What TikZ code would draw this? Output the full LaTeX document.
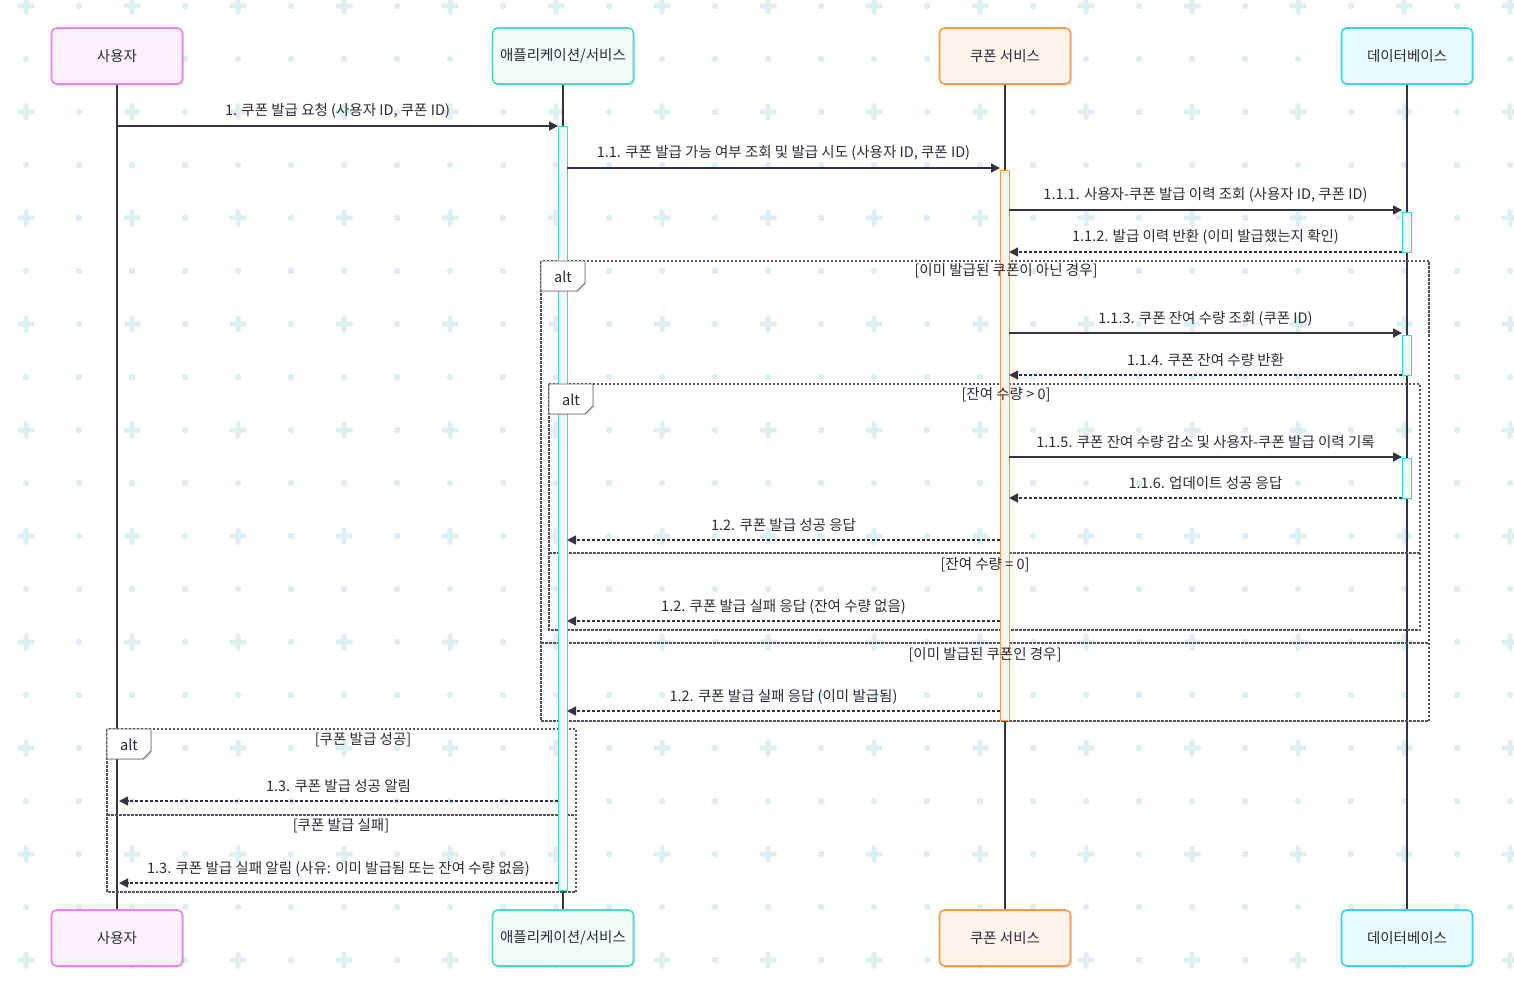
\documentclass[tikz,border=0pt]{standalone}
\usepackage{fontspec}
\setmainfont{Noto Sans CJK KR}
\usetikzlibrary{arrows.meta,shadows}

\definecolor{pat}{HTML}{DDEFF2}
\definecolor{ink}{HTML}{333344}
\definecolor{txt}{HTML}{2B2B38}
\definecolor{frm}{HTML}{555562}
\definecolor{userB}{HTML}{F07EF0}
\definecolor{userF}{HTML}{FEF1FE}
\definecolor{appB}{HTML}{4FD8C4}
\definecolor{appF}{HTML}{EFFCFA}
\definecolor{cpnB}{HTML}{FF9A4C}
\definecolor{cpnF}{HTML}{FFF3EA}
\definecolor{dbB}{HTML}{3BD4EE}
\definecolor{dbF}{HTML}{EBFCFF}

\newcommand{\alttab}[3]{%
  \draw[tabline] (#1,#2) -- ++(44,0) -- ++(0,22) -- ++(-8,8) -- ++(-36,0) -- cycle;
  \node[txtfont] (#3) at (#1+22,#2+15.5) {alt};}

\begin{document}
\begin{tikzpicture}[x=1pt,y=-1pt,
  every node/.style={inner sep=0pt, text=txt},
  txtfont/.style={font=\fontsize{14.5}{16}\selectfont},
  actor/.style={draw, rounded corners=5pt, line width=1.6pt,
    minimum width=131pt, minimum height=56pt, txtfont,
    drop shadow={shadow xshift=1.5pt, shadow yshift=-1.5pt, opacity=0.12, fill=black}},
  life/.style={draw=ink, line width=2pt},
  actbar/.style={draw, line width=1pt, minimum width=9pt, anchor=north},
  sync/.style={draw=ink, line width=1.4pt, -{Triangle[length=9pt,width=9pt]}},
  reply/.style={sync, dash pattern=on 3pt off 2pt},
  lbl/.style={midway, anchor=base, yshift=10pt, txtfont},
  frame/.style={draw=frm, line width=1.2pt, dash pattern=on 2.5pt off 1.5pt},
  cond/.style={txtfont, anchor=center},
  tabline/.style={draw=frm!90, fill=white, line width=0.9pt,
    drop shadow={shadow xshift=1.2pt, shadow yshift=-1.2pt, opacity=0.12, fill=black}},
]
\useasboundingbox (0,0) rectangle (1514,984);

% background pattern: crosses and dots
\foreach \i in {0,...,14} \foreach \j in {0,...,9} {
  \fill[pat, rounded corners=1pt] (26+106*\i-8.5, 6+106*\j-2.5) rectangle ++(17,5);
  \fill[pat, rounded corners=1pt] (26+106*\i-2.5, 6+106*\j-8.5) rectangle ++(5,17);
  \fill[pat, rounded corners=1.5pt] (79+106*\i-3, 6+106*\j-3) rectangle ++(6,6);
}
\foreach \i in {0,...,28} \foreach \j in {0,...,9}
  \fill[pat, rounded corners=1.5pt] (26+53*\i-3, 59+106*\j-3) rectangle ++(6,6);

% participants, top and bottom
\node[actor, draw=userB, fill=userF] (u1) at (117,56) {사용자};
\node[actor, draw=appB, fill=appF, minimum width=141pt] (a1) at (563,56) {애플리케이션/서비스};
\node[actor, draw=cpnB, fill=cpnF] (c1) at (1005,56) {쿠폰 서비스};
\node[actor, draw=dbB, fill=dbF] (d1) at (1407,56) {데이터베이스};
\node[actor, draw=userB, fill=userF] (u2) at (117,938) {사용자};
\node[actor, draw=appB, fill=appF, minimum width=141pt] (a2) at (563,938) {애플리케이션/서비스};
\node[actor, draw=cpnB, fill=cpnF] (c2) at (1005,938) {쿠폰 서비스};
\node[actor, draw=dbB, fill=dbF] (d2) at (1407,938) {데이터베이스};

% lifelines
\draw[life] (u1.south) -- (u2.north);
\draw[life] (a1.south) -- (a2.north);
\draw[life] (c1.south) -- (c2.north);
\draw[life] (d1.south) -- (d2.north);

% combined fragments
\draw[frame] (541,261) rectangle (1429,721);
\draw[frame] (541,643) -- (1429,643);
\draw[frame] (549,384) rectangle (1420,630);
\draw[frame] (549,553) -- (1420,553);
\draw[frame] (107,729) rectangle (576,892);
\draw[frame] (107,815) -- (576,815);

% activation bars
\node[actbar, draw=appB, fill=appF, minimum height=764pt] (appact) at (563,126) {};
\node[actbar, draw=cpnB, fill=cpnF, minimum height=550pt] (cpnact) at (1005,170) {};
\node[actbar, draw=dbB, fill=dbF, minimum height=40pt] (dbact1) at (1407,212) {};
\node[actbar, draw=dbB, fill=dbF, minimum height=40pt] (dbact2) at (1407,335) {};
\node[actbar, draw=dbB, fill=dbF, minimum height=40pt] (dbact3) at (1407,458) {};

% guard conditions
\node[cond] (g1) at (1006,271) {[이미 발급된 쿠폰이 아닌 경우]};
\node[cond] (g2) at (1006,395) {[잔여 수량 > 0]};
\node[cond] (g3) at (985,565) {[잔여 수량 = 0]};
\node[cond] (g4) at (985,655) {[이미 발급된 쿠폰인 경우]};
\node[cond] (g5) at (363,740) {[쿠폰 발급 성공]};
\node[cond] (g6) at (341,826) {[쿠폰 발급 실패]};

% fragment tabs
\alttab{541}{261}{t1}
\alttab{549}{384}{t2}
\alttab{107}{729}{t3}

% message end points
\coordinate (m1a) at (117,126);    \coordinate (m1b) at (558,126);
\coordinate (m2a) at (567,168);    \coordinate (m2b) at (1000,168);
\coordinate (m3a) at (1009,210);   \coordinate (m3b) at (1402,210);
\coordinate (m4a) at (1402,252);   \coordinate (m4b) at (1009,252);
\coordinate (m5a) at (1009,333);   \coordinate (m5b) at (1402,333);
\coordinate (m6a) at (1402,375);   \coordinate (m6b) at (1009,375);
\coordinate (m7a) at (1009,457);   \coordinate (m7b) at (1402,457);
\coordinate (m8a) at (1402,498);   \coordinate (m8b) at (1009,498);
\coordinate (m9a) at (1000,540);   \coordinate (m9b) at (567,540);
\coordinate (m10a) at (1000,621);  \coordinate (m10b) at (567,621);
\coordinate (m11a) at (1000,711);  \coordinate (m11b) at (567,711);
\coordinate (m12a) at (558,801);   \coordinate (m12b) at (119,801);
\coordinate (m13a) at (558,883);   \coordinate (m13b) at (119,883);

% messages
\draw[sync] (m1a) -- node[lbl] {1. 쿠폰 발급 요청 (사용자 ID, 쿠폰 ID)} (m1b);
\draw[sync] (m2a) -- node[lbl] {1.1. 쿠폰 발급 가능 여부 조회 및 발급 시도 (사용자 ID, 쿠폰 ID)} (m2b);
\draw[sync] (m3a) -- node[lbl] {1.1.1. 사용자-쿠폰 발급 이력 조회 (사용자 ID, 쿠폰 ID)} (m3b);
\draw[reply] (m4a) -- node[lbl] {1.1.2. 발급 이력 반환 (이미 발급했는지 확인)} (m4b);
\draw[sync] (m5a) -- node[lbl] {1.1.3. 쿠폰 잔여 수량 조회 (쿠폰 ID)} (m5b);
\draw[reply] (m6a) -- node[lbl] {1.1.4. 쿠폰 잔여 수량 반환} (m6b);
\draw[sync] (m7a) -- node[lbl] {1.1.5. 쿠폰 잔여 수량 감소 및 사용자-쿠폰 발급 이력 기록} (m7b);
\draw[reply] (m8a) -- node[lbl] {1.1.6. 업데이트 성공 응답} (m8b);
\draw[reply] (m9a) -- node[lbl] {1.2. 쿠폰 발급 성공 응답} (m9b);
\draw[reply] (m10a) -- node[lbl] {1.2. 쿠폰 발급 실패 응답 (잔여 수량 없음)} (m10b);
\draw[reply] (m11a) -- node[lbl] {1.2. 쿠폰 발급 실패 응답 (이미 발급됨)} (m11b);
\draw[reply] (m12a) -- node[lbl] {1.3. 쿠폰 발급 성공 알림} (m12b);
\draw[reply] (m13a) -- node[lbl] {1.3. 쿠폰 발급 실패 알림 (사유: 이미 발급됨 또는 잔여 수량 없음)} (m13b);
\end{tikzpicture}
\end{document}
